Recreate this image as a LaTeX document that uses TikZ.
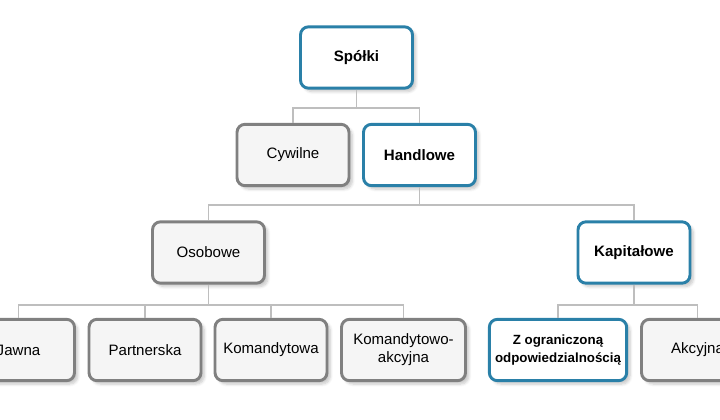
\documentclass[tikz,border=0pt]{standalone}
\usepackage{fontspec}
\setmainfont{Liberation Sans}
\usepackage{tikz}
\usetikzlibrary{positioning,shadows.blur}
\definecolor{boxgray}{RGB}{128,128,128}
\definecolor{boxfill}{RGB}{245,245,245}
\definecolor{boxblue}{RGB}{42,128,168}
\definecolor{linkgray}{RGB}{190,190,190}

\begin{document}
\begin{tikzpicture}[x=0.75pt,y=-0.75pt]
    \tikzset{
      unit/.style={rounded corners=6pt,line width=2.2pt,minimum width=84pt,minimum height=46pt,
        align=center,font=\fontsize{11.3}{13.5}\selectfont,
        blur shadow={shadow xshift=2.5pt,shadow yshift=-2.5pt,shadow blur steps=6,shadow opacity=22}},
      plainunit/.style={unit,draw=boxgray,fill=boxfill},
      mainunit/.style={unit,draw=boxblue,fill=white,font=\fontsize{11.3}{13.5}\selectfont\bfseries},
      link/.style={draw=linkgray,line width=1.4pt}
    }
    \useasboundingbox (0,0) rectangle (720,420);
    % top levels
    \node[mainunit] (spolki) at (356.5,57.5) {Spółki};
    \node[plainunit] (cywilne) at (293,155) {Cywilne};
    \node[mainunit] (handlowe) at (419.5,155) {Handlowe};
    \node[plainunit] (osobowe) at (208.5,252.5) {Osobowe};
    \node[mainunit] (kapitalowe) at (634,252.5) {Kapitałowe};
    % bottom row
    \node[plainunit] (jawna) at (18.5,350) {Jawna};
    \node[plainunit] (partnerska) at (145,350) {Partnerska};
    \node[plainunit] (komandytowa) at (271,350) {Komandytowa};
    \node[plainunit,minimum width=93pt] (komakcyjna) at (403.5,350) {Komandytowo-\\akcyjna};
    \node[mainunit,minimum width=103pt,font=\fontsize{10}{13.5}\selectfont\bfseries] (zoo) at (558,350) {Z ograniczoną\\odpowiedzialnością};
    \node[plainunit] (akcyjna) at (697.5,350) {Akcyjna};
    % connectors
    \draw[link] (spolki.south) -- ++(0,18) coordinate (j1);
    \draw[link] (j1) -| (cywilne);
    \draw[link] (j1) -| (handlowe);
    \draw[link] (handlowe.south) -- ++(0,18) coordinate (j2);
    \draw[link] (j2) -| (osobowe);
    \draw[link] (j2) -| (kapitalowe);
    \draw[link] (osobowe.south) -- ++(0,20) coordinate (j3);
    \foreach \n in {jawna,partnerska,komandytowa,komakcyjna}{ \draw[link] (j3) -| (\n); }
    \draw[link] (kapitalowe.south) -- ++(0,20) coordinate (j4);
    \draw[link] (j4) -| (zoo);
    \draw[link] (j4) -| (akcyjna);
\end{tikzpicture}
\end{document}
